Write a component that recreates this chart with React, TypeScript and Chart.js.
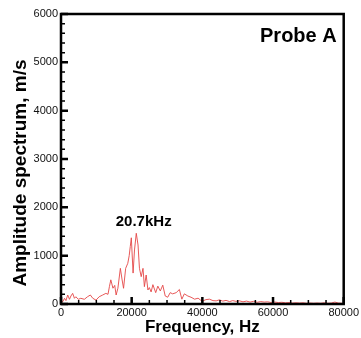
import { useEffect, useRef } from "react";
import { Chart, registerables } from "chart.js";

Chart.register(...registerables);

// Frequency (Hz) of each spectrum sample
const frequencies = [
  0, 500, 1000, 1400, 1900, 2400, 2800, 3300, 3800, 4200, 4900, 5600, 6600, 7500, 8300, 9000, 9900,
  10800, 11800, 12700, 13300, 13700, 14100, 14700, 15200, 15600, 16100, 16800, 17300, 17700, 18300,
  18900, 19300, 19600, 19900, 20400, 20800, 21300, 21800, 22200, 22700, 23200, 23600, 24100, 24600,
  25000, 25500, 26000, 26800, 27400, 28100, 28800, 29500, 30200, 30900, 31600, 32600, 33500, 34200,
  34900, 35900, 36800, 37800, 38800, 39500, 40200, 41000, 42000, 43000, 43900, 44800, 45800, 46700,
  47700, 48600, 49500, 50500, 51500, 52500, 53500, 54500, 55500, 56500, 57500, 58500, 59500, 60500,
  61500, 62500, 63500, 64500, 65500, 66500, 67500, 68500, 69500, 70500, 71500, 72500, 73500, 74500,
  75500, 76500, 77500, 78500, 79500,
];

// Amplitude spectrum (m/s) at each frequency
const amplitudes = [
  60, 48, 118, 70, 186, 97, 165, 220, 118, 150, 97, 118, 97, 150, 186, 118, 80,
  150, 186, 220, 200, 360, 500, 327, 385, 186, 327, 738, 497, 325, 738,
  842, 1000, 1187, 1370, 640, 1118, 1463, 1221, 738, 566, 738, 359, 600, 290,
  340, 250, 400, 235, 370, 270, 390, 165, 140, 235, 210, 235, 300, 100,
  210, 165, 140, 100, 120, 80, 65, 90, 100, 70, 65, 85, 60, 75,
  50, 70, 55, 65, 45, 60, 40, 55, 35, 50, 40, 45, 30, 40,
  30, 35, 25, 30, 20, 25, 20, 25, 15, 20, 15, 20, 15, 25,
  15, 20, 40, 20, 15,
];

const xTickValues = [0, 20000, 40000, 60000, 80000];
const yTickValues = [0, 1000, 2000, 3000, 4000, 5000, 6000];
const xMinorStep = 5000;
const yMinorStep = 200;

const xTitle = "Frequency, Hz";
const yTitle = "Amplitude spectrum, m/s";
const probeLabel = "Probe A";
const peakLabel = "20.7kHz";
const peakLabelPos = { x: 23400, y: 1690 };

const FONT = '"Liberation Sans", Arial, sans-serif';

const framePlugin = {
  id: "frameTicks",
  afterDraw(chart: any) {
    const { ctx, chartArea } = chart;
    const xs = chart.scales.x;
    const ys = chart.scales.y;
    const { left, right, top, bottom } = chartArea;
    ctx.save();
    ctx.strokeStyle = "#000";
    // minor ticks
    ctx.lineWidth = 1.5;
    ctx.beginPath();
    for (let v = xs.min; v <= xs.max; v += xMinorStep) {
      const px = xs.getPixelForValue(v);
      ctx.moveTo(px, bottom);
      ctx.lineTo(px, bottom - 4);
    }
    for (let v = ys.min; v <= ys.max; v += yMinorStep) {
      const py = ys.getPixelForValue(v);
      ctx.moveTo(left, py);
      ctx.lineTo(left + 4, py);
    }
    ctx.stroke();
    // major ticks
    ctx.lineWidth = 2.5;
    ctx.beginPath();
    xTickValues.forEach((v) => {
      const px = xs.getPixelForValue(v);
      ctx.moveTo(px, bottom);
      ctx.lineTo(px, bottom - 7);
    });
    yTickValues.forEach((v) => {
      const py = ys.getPixelForValue(v);
      ctx.moveTo(left, py);
      ctx.lineTo(left + 7, py);
    });
    ctx.stroke();
    // frame
    ctx.lineWidth = 2.5;
    ctx.strokeRect(left, top, right - left, bottom - top);
    // texts
    ctx.fillStyle = "#000";
    ctx.font = `bold 17px ${FONT}`;
    ctx.textAlign = "center";
    ctx.textBaseline = "middle";
    ctx.fillText(xTitle, (left + right) / 2, 327);
    ctx.save();
    ctx.translate(21, 173);
    ctx.rotate(-Math.PI / 2);
    ctx.font = `bold 19px ${FONT}`;
    ctx.fillText(yTitle, 0, 0);
    ctx.restore();
    ctx.font = `bold 20px ${FONT}`;
    ctx.textAlign = "right";
    ctx.fillText(probeLabel, right - 7, top + 22);
    ctx.font = `bold 15px ${FONT}`;
    ctx.textAlign = "center";
    ctx.fillText(peakLabel, xs.getPixelForValue(peakLabelPos.x), ys.getPixelForValue(peakLabelPos.y));
    ctx.restore();
  },
};

export default function App() {
  const canvasRef = useRef<HTMLCanvasElement | null>(null);

  useEffect(() => {
    document.body.style.margin = "0";
    const canvas = canvasRef.current;
    if (!canvas) return;
    const chart = new Chart(canvas, {
      type: "line",
      data: {
        datasets: [
          {
            data: frequencies.map((f, i) => ({ x: f, y: amplitudes[i] })),
            borderColor: "rgb(228, 70, 70)",
            borderWidth: 0.9,
            pointRadius: 0,
            tension: 0,
            fill: false,
          },
        ],
      },
      options: {
        animation: false,
        responsive: false,
        devicePixelRatio: 1,
        layout: { padding: { top: 14, right: 17, left: 0, bottom: 0 } },
        plugins: { legend: { display: false }, tooltip: { enabled: false } },
        scales: {
          x: {
            type: "linear",
            min: 0,
            max: 80000,
            afterBuildTicks: (s: any) => {
              s.ticks = xTickValues.map((v) => ({ value: v }));
            },
            afterFit: (s: any) => {
              s.height = 34;
            },
            grid: { display: false, drawTicks: false },
            border: { display: false },
            ticks: {
              color: "#111",
              font: { family: FONT, size: 11 },
              padding: 2,
              maxRotation: 0,
              autoSkip: false,
              callback: (v: any) => String(v),
            },
          },
          y: {
            type: "linear",
            min: 0,
            max: 6000,
            afterBuildTicks: (s: any) => {
              s.ticks = yTickValues.map((v) => ({ value: v }));
            },
            afterFit: (s: any) => {
              s.width = 61;
            },
            grid: { display: false, drawTicks: false },
            border: { display: false },
            ticks: {
              color: "#111",
              font: { family: FONT, size: 11 },
              padding: 3,
              autoSkip: false,
              callback: (v: any) => String(v),
            },
          },
        },
      },
      plugins: [framePlugin],
    });
    return () => chart.destroy();
  }, []);

  return (
    <div style={{ width: 361, height: 338 }}>
      <canvas ref={canvasRef} width={361} height={338} />
    </div>
  );
}
